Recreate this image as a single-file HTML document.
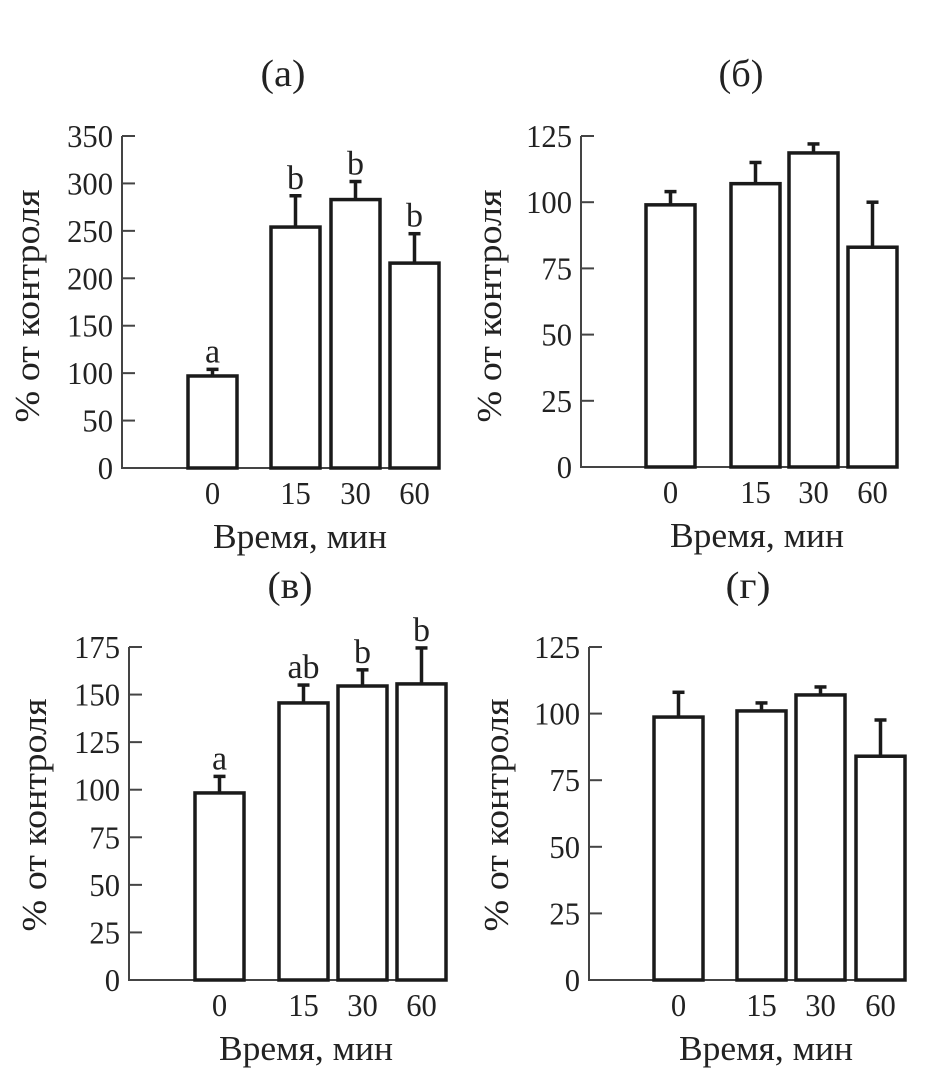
<!DOCTYPE html>
<html><head><meta charset="utf-8"><style>
html,body{margin:0;padding:0;background:#fff}
svg{display:block}
text{font-family:"Liberation Serif","DejaVu Serif",serif;fill:#222}
</style></head><body>
<svg id="fig" width="930" height="1083" viewBox="0 0 930 1083" xmlns="http://www.w3.org/2000/svg"></svg>
<script>
const categories = ["0","15","30","60"];
const valuesA = [97, 254, 283, 216];
const errA = [104, 287, 302, 247];
const lettersA = ["a","b","b","b"];
const ticksA = [0,50,100,150,200,250,300,350];
const valuesB = [99, 107, 118.6, 83];
const errB = [104, 115, 122, 100];
const ticksB = [0,25,50,75,100,125];
const valuesC = [98.3, 145.6, 154.5, 155.6];
const errC = [107, 155, 163, 174.5];
const lettersC = ["a","ab","b","b"];
const ticksC = [0,25,50,75,100,125,150,175];
const valuesD = [98.7, 101, 107, 84];
const errD = [108, 104, 110, 97.6];
const ticksD = [0,25,50,75,100,125];

const NS="http://www.w3.org/2000/svg";
const svg=document.getElementById('fig');
function mk(tag,attrs,parent,txt){const e=document.createElementNS(NS,tag);for(const k in attrs)e.setAttribute(k,attrs[k]);if(txt!==undefined)e.textContent=txt;(parent||svg).appendChild(e);return e;}

function panel(p){
  const g=mk('g',{});
  
  
  const yMax=p.ticks[p.ticks.length-1];
  const y=v=>p.y0-(v/yMax)*(p.y0-p.yTop);
  const t=mk('text',{x:p.titleX,y:p.titleY,'font-size':38,'text-anchor':'middle',textLength:45,lengthAdjust:'spacingAndGlyphs'},g,p.title);
  
  
  const ax=mk('path',{d:`M${p.ax},${p.yTop} V${p.y0} H${p.axEnd}`,stroke:'#444','stroke-width':2,fill:'none'},g);
  
  
  p.ticks.forEach(v=>{
    const tk=mk('line',{x1:p.ax,x2:p.ax+13,y1:y(v),y2:y(v),stroke:'#444','stroke-width':2},g);
    
    
    const s=String(v);
    const tl=mk('text',{x:p.ax-9,y:y(v)+11,'font-size':32,'text-anchor':'end',textLength:15.3*s.length,lengthAdjust:'spacingAndGlyphs'},g,s);
    
    
  });
  const bw=p.bw;
  categories.forEach((c,i)=>{
    const x=p.barX[i];
    const cx=x+bw/2;
    const er=mk('line',{x1:cx,x2:cx,y1:y(p.values[i]),y2:y(p.err[i]),stroke:'#1a1a1a','stroke-width':3.5},g);
    
    
    const cap=mk('line',{x1:cx-6,x2:cx+6,y1:y(p.err[i]),y2:y(p.err[i]),stroke:'#1a1a1a','stroke-width':3.5},g);
    
    
    const r=mk('rect',{x:x,y:y(p.values[i]),width:bw,height:p.y0-y(p.values[i]),fill:'#fff',stroke:'#1a1a1a','stroke-width':3.5},g);
    
    
    const xl=mk('text',{x:cx,y:p.y0+36,'font-size':32,'text-anchor':'middle',textLength:15.3*c.length,lengthAdjust:'spacingAndGlyphs'},g,c);
    
    
    if(p.letters){
      const lt=mk('text',{x:cx,y:y(p.err[i])-7,'font-size':34,'text-anchor':'middle'},g,p.letters[i]);
      
      
    }
  });
  const xt=mk('text',{x:p.xTitleX,y:p.y0+80,'font-size':35,'text-anchor':'middle',textLength:174,lengthAdjust:'spacingAndGlyphs'},g,'Время, мин');
  
  
  const yt=mk('text',{x:0,y:0,'font-size':35,'text-anchor':'middle',textLength:233,lengthAdjust:'spacingAndGlyphs',transform:`translate(${p.yTitleX},${p.yTitleY}) rotate(-90)`},g,'% от контроля');
  
  
}

panel({id:'a',title:'(а)',titleX:283,titleY:86,ax:122,axEnd:440,yTop:136,y0:468,ticks:ticksA,values:valuesA,err:errA,letters:lettersA,barX:[188,271,331,390],bw:49,xTitleX:300,yTitleX:39,yTitleY:306});
panel({id:'b',title:'(б)',titleX:741,titleY:86,ax:581,axEnd:898,yTop:136,y0:467,ticks:ticksB,values:valuesB,err:errB,letters:null,barX:[646,731,789,848],bw:49,xTitleX:757,yTitleX:501,yTitleY:306});
panel({id:'c',title:'(в)',titleX:290,titleY:598,ax:129,axEnd:447,yTop:647,y0:980,ticks:ticksC,values:valuesC,err:errC,letters:lettersC,barX:[195,279,338,397],bw:49,xTitleX:306,yTitleX:46,yTitleY:815});
panel({id:'d',title:'(г)',titleX:748,titleY:598,ax:589,axEnd:906,yTop:647,y0:980,ticks:ticksD,values:valuesD,err:errD,letters:null,barX:[654,737,796,856],bw:49,xTitleX:766,yTitleX:508,yTitleY:815});
</script>
</body></html>
